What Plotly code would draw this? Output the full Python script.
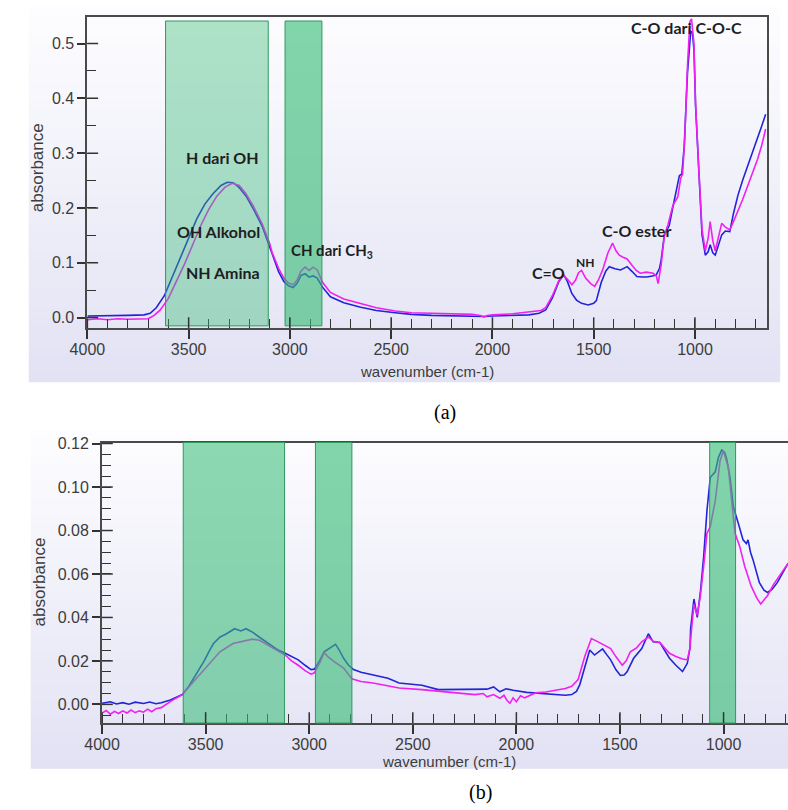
import plotly.graph_objects as go

# ---------------- data: panel (a) ----------------
a_blue_wn = [4000,3900,3800,3720,3690,3660,3620,3580,3540,3500,3460,3420,3380,3340,3310,3280,3250,3217,3180,3136,3100,3088,3056,3030,3007,2985,2965,2945,2925,2905,2885,2865,2840,2800,2734,2650,2573,2480,2400,2300,2200,2100,2040,2000,1900,1820,1770,1737,1704,1672,1648,1630,1608,1585,1560,1527,1500,1487,1463,1440,1423,1395,1367,1335,1310,1287,1260,1239,1210,1191,1175,1167,1151,1140,1127,1110,1094,1077,1065,1053,1037,1021,1013,1005,997,981,965,949,935,925,912,900,885,868,850,828,810,788,765,739,715,691,670,651]
a_blue_ab = [0.003,0.003,0.004,0.005,0.008,0.018,0.040,0.075,0.110,0.145,0.180,0.207,0.226,0.241,0.247,0.246,0.237,0.222,0.198,0.166,0.128,0.114,0.084,0.066,0.058,0.055,0.062,0.077,0.080,0.074,0.076,0.072,0.056,0.038,0.027,0.019,0.013,0.009,0.006,0.004,0.003,0.003,0.002,0.003,0.004,0.005,0.008,0.014,0.036,0.066,0.078,0.066,0.044,0.032,0.026,0.023,0.026,0.031,0.064,0.085,0.093,0.089,0.087,0.093,0.084,0.075,0.074,0.074,0.076,0.078,0.090,0.105,0.151,0.160,0.168,0.200,0.229,0.259,0.262,0.313,0.446,0.522,0.520,0.489,0.386,0.265,0.151,0.114,0.120,0.133,0.118,0.114,0.130,0.151,0.158,0.157,0.190,0.223,0.250,0.277,0.300,0.325,0.350,0.371]

a_mag_wn = [4000,3950,3900,3850,3800,3750,3700,3670,3640,3600,3560,3520,3480,3440,3400,3360,3320,3285,3250,3217,3180,3136,3100,3088,3056,3030,3007,2985,2965,2945,2925,2905,2885,2865,2840,2800,2734,2650,2573,2480,2400,2300,2200,2100,2060,2042,2025,2000,1900,1820,1760,1737,1704,1672,1648,1625,1608,1590,1575,1560,1540,1515,1495,1475,1455,1430,1407,1390,1374,1355,1335,1310,1290,1270,1240,1206,1190,1182,1175,1167,1151,1133,1109,1085,1070,1061,1050,1037,1025,1017,1005,997,981,965,949,935,925,912,900,885,868,850,828,810,788,765,739,715,691,670,651]
a_mag_ab = [-0.004,-0.002,-0.004,-0.002,-0.003,-0.002,-0.002,0.004,0.014,0.035,0.065,0.098,0.133,0.168,0.198,0.222,0.238,0.245,0.241,0.226,0.203,0.170,0.135,0.119,0.090,0.072,0.063,0.060,0.068,0.085,0.092,0.086,0.092,0.087,0.065,0.046,0.034,0.025,0.018,0.012,0.009,0.008,0.007,0.006,0.004,0.001,0.004,0.005,0.007,0.010,0.013,0.018,0.040,0.068,0.077,0.068,0.060,0.068,0.082,0.086,0.072,0.062,0.057,0.070,0.088,0.118,0.136,0.122,0.114,0.110,0.107,0.095,0.086,0.081,0.083,0.081,0.075,0.062,0.075,0.096,0.150,0.170,0.205,0.220,0.255,0.262,0.330,0.460,0.540,0.545,0.500,0.390,0.270,0.160,0.122,0.145,0.175,0.140,0.122,0.145,0.172,0.165,0.160,0.175,0.193,0.215,0.241,0.265,0.289,0.315,0.344]

# ---------------- data: panel (b) ----------------
b_blue_wn = [4000,3960,3930,3900,3870,3840,3800,3770,3740,3714,3670,3612,3580,3557,3530,3509,3480,3462,3430,3399,3360,3330,3305,3270,3242,3210,3179,3150,3116,3085,3053,3020,2991,2975,2950,2928,2900,2873,2855,2834,2810,2786,2750,2692,2620,2566,2456,2377,2299,2200,2142,2110,2080,2050,2016,1950,1858,1764,1733,1710,1694,1662,1646,1623,1600,1584,1565,1545,1520,1498,1480,1466,1434,1410,1395,1363,1340,1308,1285,1261,1230,1198,1175,1162,1159,1143,1127,1112,1096,1080,1064,1040,1025,1009,995,985,969,953,929,906,890,882,870,858,827,805,788,765,741,710,688]
b_blue_ab = [0.0005,0.0012,0.0002,0.0008,0.0001,0.0010,0.0004,0.0011,0.0003,0.0007,0.0020,0.0045,0.0085,0.012,0.016,0.0197,0.025,0.028,0.031,0.0325,0.0348,0.0338,0.0348,0.033,0.031,0.029,0.027,0.025,0.0235,0.022,0.0205,0.018,0.016,0.0162,0.020,0.0242,0.026,0.0276,0.025,0.0212,0.018,0.016,0.0148,0.0136,0.012,0.0098,0.0088,0.0068,0.0068,0.0068,0.007,0.0080,0.0058,0.0072,0.0065,0.0055,0.0048,0.0042,0.0045,0.0060,0.0091,0.0197,0.025,0.0227,0.0245,0.0255,0.023,0.0205,0.016,0.0133,0.0135,0.015,0.0212,0.024,0.0257,0.0325,0.0288,0.0285,0.025,0.0212,0.018,0.0151,0.0189,0.026,0.0348,0.0485,0.040,0.0515,0.068,0.0894,0.1045,0.107,0.1136,0.117,0.116,0.1129,0.1045,0.0909,0.0833,0.0757,0.074,0.0757,0.070,0.0666,0.056,0.0525,0.0515,0.053,0.056,0.061,0.065]

b_mag_wn = [4000,3980,3960,3940,3920,3900,3880,3860,3840,3820,3800,3780,3760,3740,3714,3690,3667,3640,3612,3557,3494,3431,3368,3320,3274,3240,3211,3160,3116,3085,3053,3020,2991,2975,2950,2928,2910,2880,2834,2794,2750,2692,2620,2566,2456,2377,2299,2200,2160,2142,2110,2080,2060,2045,2031,2016,2000,1980,1960,1906,1858,1764,1733,1702,1670,1638,1610,1591,1570,1545,1520,1489,1470,1450,1420,1395,1363,1340,1308,1285,1261,1230,1198,1175,1162,1155,1143,1127,1112,1096,1080,1064,1040,1017,1001,977,961,945,922,898,867,840,821,788,760,741,688]
b_mag_ab = [-0.004,-0.0028,-0.0045,-0.0032,-0.0042,-0.0030,-0.0040,-0.0026,-0.0038,-0.0030,-0.0036,-0.0022,-0.0034,-0.0020,-0.0015,0.0002,0.0015,0.003,0.0045,0.0106,0.0174,0.0242,0.028,0.029,0.030,0.0295,0.028,0.025,0.0227,0.020,0.018,0.0155,0.0139,0.0145,0.019,0.0238,0.022,0.0197,0.0167,0.0118,0.0105,0.0098,0.0085,0.0075,0.0068,0.006,0.0053,0.0045,0.0050,0.0035,0.0045,0.0028,0.0042,0.0018,0.0005,0.0030,0.0012,0.0040,0.0030,0.0053,0.0057,0.0073,0.0083,0.0114,0.022,0.0303,0.029,0.028,0.027,0.0257,0.022,0.018,0.020,0.0242,0.026,0.0288,0.031,0.029,0.0285,0.026,0.0235,0.022,0.0209,0.0205,0.026,0.034,0.046,0.041,0.050,0.0636,0.0788,0.0818,0.0939,0.112,0.1167,0.109,0.0939,0.0788,0.0727,0.0636,0.0545,0.049,0.0462,0.050,0.055,0.0575,0.065]

# highlighted bands (wavenumber ranges)
a_bands = [(3614, 3107), (3024, 2842)]
b_bands = [(3608, 3119), (2970, 2794), (1067, 942)]

# annotation labels for panel (a)
a_labels = ["H dari OH", "OH Alkohol", "NH Amina", "CH dari CH<sub>3</sub>", "C=O", "NH", "C-O ester", "C-O dari C-O-C"]
a_label_wn = [3334, 3353, 3329, 2793, 1722, 1539, 1290, 1042]
a_label_ab = [0.292, 0.157, 0.083, 0.122, 0.083, 0.101, 0.158, 0.530]
a_label_size = [16, 16, 16, 15, 16, 12, 16, 16]

x_major = [4000, 3500, 3000, 2500, 2000, 1500, 1000]
a_y_major = [0.0, 0.1, 0.2, 0.3, 0.4, 0.5]
b_y_major = [0.00, 0.02, 0.04, 0.06, 0.08, 0.10, 0.12]

W, H = 788, 810
BLUE = "#2323d8"
MAG = "#f020f0"

fig = go.Figure()
fig.add_trace(go.Scatter(x=a_blue_wn, y=a_blue_ab, mode="lines", line=dict(color=BLUE, width=1.6), xaxis="x", yaxis="y", showlegend=False))
fig.add_trace(go.Scatter(x=a_mag_wn, y=a_mag_ab, mode="lines", line=dict(color=MAG, width=1.6), xaxis="x", yaxis="y", showlegend=False))
fig.add_trace(go.Scatter(x=b_blue_wn, y=b_blue_ab, mode="lines", line=dict(color=BLUE, width=1.6), xaxis="x2", yaxis="y2", showlegend=False))
fig.add_trace(go.Scatter(x=b_mag_wn, y=b_mag_ab, mode="lines", line=dict(color=MAG, width=1.6), xaxis="x2", yaxis="y2", showlegend=False))

# plot-area pixel boxes
A = dict(l=71, r=767, t=10, b=324)
B = dict(l=86, r=788, t=439.3, b=722.3)

def px2paper_x(p):
    return p / W

def px2paper_y(p):
    return 1 - p / H

tickfont = dict(family="Liberation Sans, Arial, sans-serif", size=16, color="#3c3c3c")
AX = "#4a4a4a"

def xaxis(box, rng, anchor):
    return dict(domain=[px2paper_x(box["l"]), px2paper_x(box["r"])], range=rng, anchor=anchor,
                tickvals=x_major, ticks="outside", ticklen=9, tickwidth=1.5, tickcolor="#333",
                ticklabelstandoff=-3,
                minor=dict(dtick=100, tick0=0, ticks="inside", ticklen=9, tickwidth=1.3, tickcolor="#333"),
                showline=True, linecolor=AX, linewidth=2, showgrid=False, zeroline=False,
                tickfont=tickfont, fixedrange=True)

def yaxis(box, rng, anchor, vals, fmt, mdt):
    return dict(domain=[px2paper_y(box["b"]), px2paper_y(box["t"])], range=rng, anchor=anchor,
                tickvals=vals, tickformat=fmt, ticks="outside", ticklen=8, tickwidth=1.5, tickcolor="#333",
                minor=dict(dtick=mdt, tick0=0, ticks="inside", ticklen=9, tickwidth=1.3, tickcolor="#333"),
                showline=True, linecolor=AX, linewidth=2, showgrid=False, zeroline=False,
                tickfont=tickfont, fixedrange=True)

shapes = []
# gradient panel backgrounds
def gradient(x0, x1, y0, y1, n=40, c0=(253, 253, 255), c1=(226, 226, 244)):
    h = (y1 - y0) / n
    for i in range(n):
        f = i / (n - 1)
        c = tuple(int(round(c0[k] + (c1[k] - c0[k]) * f)) for k in range(3))
        shapes.append(dict(type="rect", xref="paper", yref="paper", layer="below",
                           x0=px2paper_x(x0), x1=px2paper_x(x1),
                           y0=px2paper_y(y0 + i * h), y1=px2paper_y(y0 + (i + 1) * h + 0.5),
                           line=dict(width=0), fillcolor="rgb(%d,%d,%d)" % c))

gradient(11, 780, 0, 378)
gradient(13, 788, 427, 768)

# bands (a)
a_alpha = [0.40, 0.62]
for (w0, w1), al in zip(a_bands, a_alpha):
    shapes.append(dict(type="rect", xref="x", yref="y", x0=w0, x1=w1, y0=-0.015, y1=0.541, layer="above",
                       fillcolor="rgba(55,188,118,%.2f)" % al, line=dict(color="#2f9a5e", width=1)))
# bands (b)
b_alpha = [0.57, 0.62, 0.62]
for (w0, w1), al in zip(b_bands, b_alpha):
    shapes.append(dict(type="rect", xref="x2", yref="y2 domain", x0=w0, x1=w1, y0=0, y1=1, layer="above",
                       fillcolor="rgba(55,188,118,%.2f)" % al, line=dict(color="#2f9a5e", width=1)))

# inner halves of major ticks (ticks cross the axis line)
for v in x_major:
    shapes.append(dict(type="line", xref="x", yref="y domain", x0=v, x1=v, y0=0, y1=11 / (A["b"] - A["t"]), line=dict(color="#333", width=1.5)))
    shapes.append(dict(type="line", xref="x2", yref="y2 domain", x0=v, x1=v, y0=0, y1=11 / (B["b"] - B["t"]), line=dict(color="#333", width=1.5)))
for v in a_y_major:
    shapes.append(dict(type="line", xref="x domain", yref="y", x0=0, x1=11 / (A["r"] - A["l"]), y0=v, y1=v, line=dict(color="#333", width=1.5)))
for v in b_y_major:
    shapes.append(dict(type="line", xref="x2 domain", yref="y2", x0=0, x1=11 / (B["r"] - B["l"]), y0=v, y1=v, line=dict(color="#333", width=1.5)))

annotations = []
for t, xw, ya, fs in zip(a_labels, a_label_wn, a_label_ab, a_label_size):
    annotations.append(dict(text="<b>%s</b>" % t, x=xw, y=ya, xref="x", yref="y", showarrow=False,
                            xanchor="center", yanchor="middle",
                            font=dict(family="Lato, Open Sans, sans-serif", size=fs, color="#1e1e1e")))

title_font = dict(family="Liberation Sans, Arial, sans-serif", size=15, color="#3c3c3c")

def pann(text, x, y, font, angle=0):
    return dict(text=text, x=px2paper_x(x), y=px2paper_y(y), xref="paper", yref="paper", showarrow=False,
                xanchor="center", yanchor="middle", textangle=angle, font=font)

serif = dict(family="Liberation Serif, Times New Roman, serif", size=20, color="#000")
annotations += [
    pann("wavenumber (cm-1)", 419, 368, title_font),
    pann("absorbance", 20, 162, dict(title_font, size=17), -90),
    pann("wavenumber (cm-1)", 441, 761, title_font),
    pann("absorbance", 23, 580, dict(title_font, size=17), -90),
    pann("(a)", 437, 409, serif),
    pann("(b)", 473, 792, serif),
]

xa = xaxis(A, [4000, 642], "y")
xa.update(mirror=True)
ya = yaxis(A, [-0.0193, 0.5485], "x", a_y_major, ".1f", 0.05)
ya.update(mirror=True)
xb = xaxis(B, [4000, 689], "y2")
xb.update(mirror=True)
yb = yaxis(B, [-0.0086, 0.1205], "x2", b_y_major, ".2f", 0.005)

fig.update_layout(
    width=W, height=H, margin=dict(l=0, r=0, t=0, b=0),
    paper_bgcolor="white", plot_bgcolor="rgba(0,0,0,0)",
    xaxis=xa, yaxis=ya, xaxis2=xb, yaxis2=yb,
    shapes=shapes, annotations=annotations, showlegend=False,
)

fig.write_html("out.html")
